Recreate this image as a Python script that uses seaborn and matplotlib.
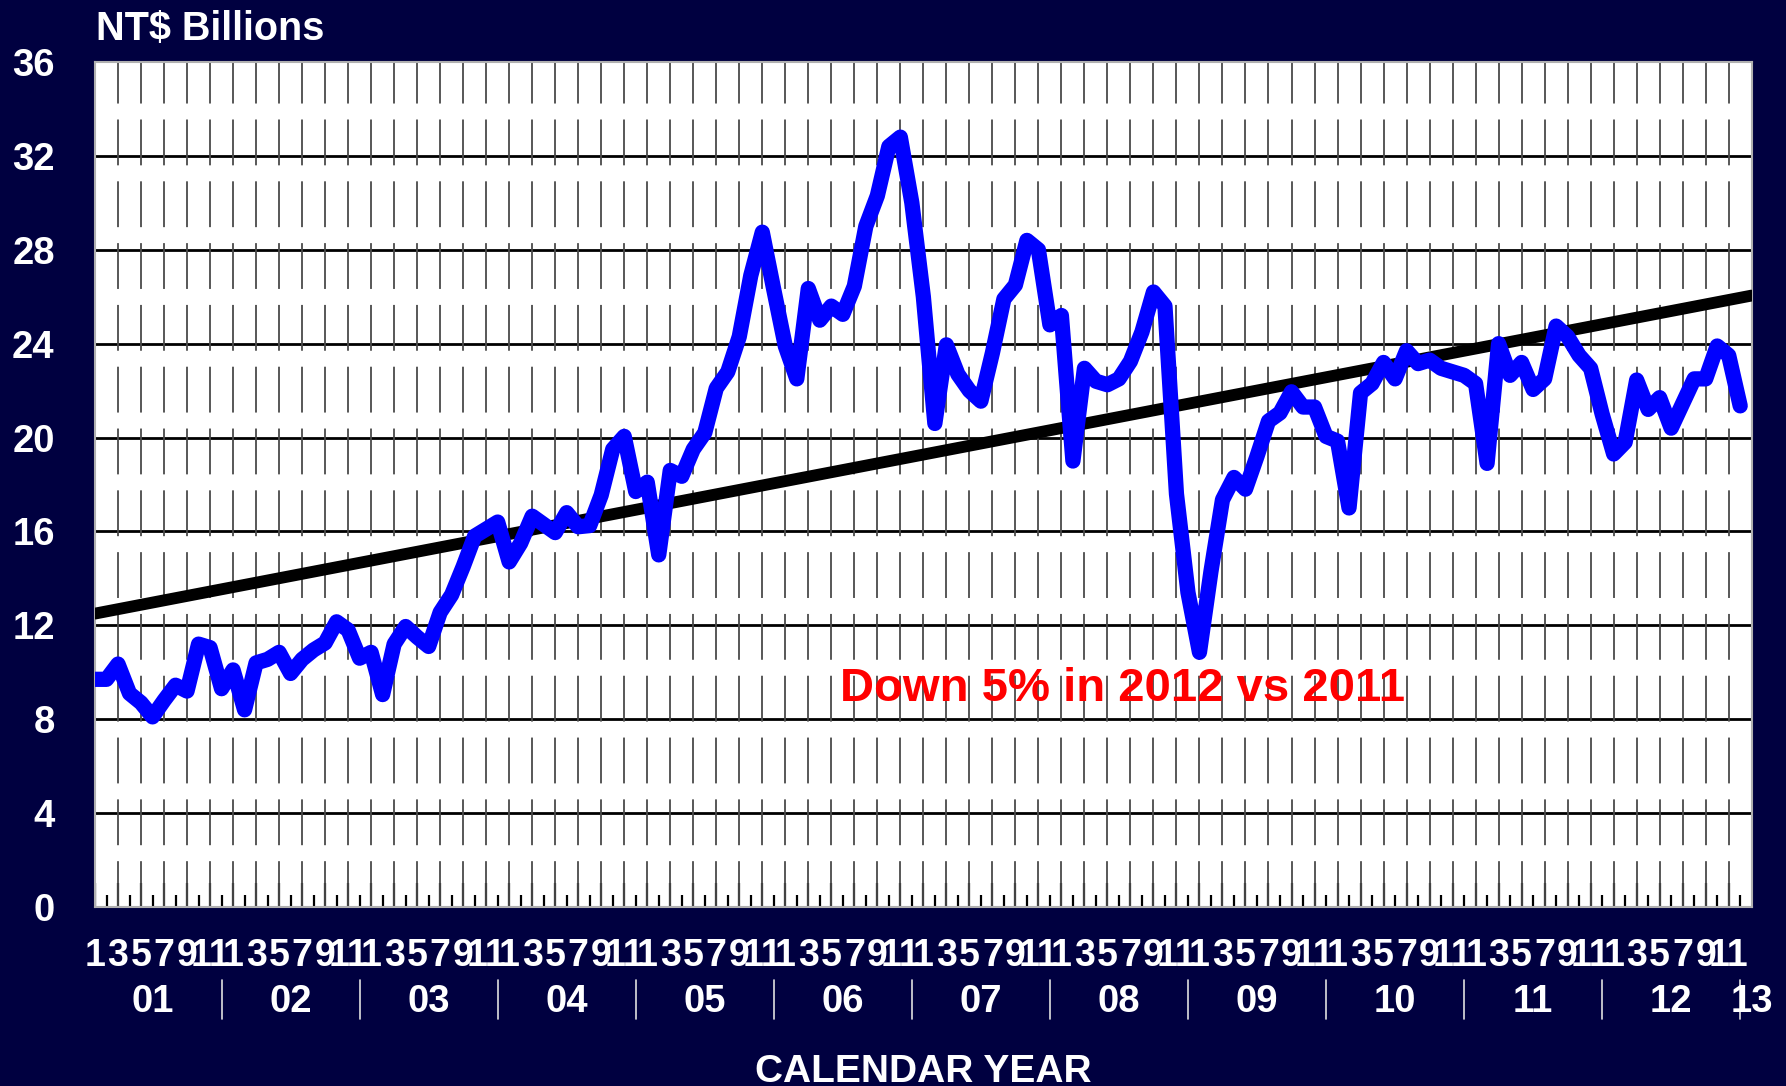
import numpy as np
import pandas as pd
import matplotlib
matplotlib.use("Agg")
import matplotlib.pyplot as plt
import seaborn as sns

# ---------------- data ----------------
year_labels = ["01", "02", "03", "04", "05", "06", "07", "08", "09", "10", "11", "12", "13"]
month_labels = ["1", "3", "5", "7", "9", "11"]
y_ticks = [0, 4, 8, 12, 16, 20, 24, 28, 32, 36]

# monthly values, Jan 2001 .. Dec 2012 (NT$ billions)
sales_2001 = [9.7, 9.7, 10.35, 9.1, 8.7, 8.1, 8.8, 9.45, 9.2, 11.2, 11.05, 9.3]
sales_2002 = [10.1, 8.4, 10.4, 10.55, 10.85, 9.95, 10.55, 10.95, 11.25, 12.15, 11.8, 10.6]
sales_2003 = [10.85, 9.05, 11.2, 11.95, 11.5, 11.1, 12.55, 13.3, 14.5, 15.8, 16.1, 16.4]
sales_2004 = [14.7, 15.5, 16.65, 16.3, 15.95, 16.8, 16.2, 16.25, 17.55, 19.5, 20.05, 17.7]
sales_2005 = [18.1, 15.0, 18.6, 18.35, 19.5, 20.2, 22.1, 22.8, 24.3, 26.9, 28.75, 26.3]
sales_2006 = [23.9, 22.5, 26.35, 25.0, 25.6, 25.25, 26.45, 29.0, 30.3, 32.4, 32.8, 30.0]
sales_2007 = [26.0, 20.6, 23.95, 22.7, 22.0, 21.55, 23.6, 25.9, 26.5, 28.4, 28.0, 24.8]
sales_2008 = [25.2, 19.0, 22.95, 22.4, 22.25, 22.5, 23.25, 24.5, 26.2, 25.6, 17.6, 13.4]
sales_2009 = [10.85, 14.3, 17.35, 18.3, 17.8, 19.2, 20.7, 21.05, 21.95, 21.3, 21.3, 20.05]
sales_2010 = [19.85, 17.0, 21.9, 22.3, 23.2, 22.5, 23.7, 23.15, 23.3, 22.95, 22.8, 22.65]
sales_2011 = [22.3, 18.9, 24.0, 22.65, 23.2, 22.05, 22.5, 24.75, 24.3, 23.5, 22.95, 21.0]
sales_2012 = [19.3, 19.8, 22.45, 21.2, 21.7, 20.4, 21.45, 22.5, 22.5, 23.9, 23.5, 21.35]

trend_values = [12.5, 26.05]   # trend line at the start and end of the axis

sales = (sales_2001 + sales_2002 + sales_2003 + sales_2004 + sales_2005 + sales_2006 +
         sales_2007 + sales_2008 + sales_2009 + sales_2010 + sales_2011 + sales_2012)

n_months = len(sales)          # 144
axis_len = n_months            # axis spans 0..144

df = pd.DataFrame({"month": np.arange(n_months), "value": sales})
trend_df = pd.DataFrame({"month": [0, axis_len], "value": trend_values})

# ---------------- style ----------------
sns.set_theme(style="white")
plt.rcParams["font.family"] = ["Liberation Sans", "DejaVu Sans"]
plt.rcParams["lines.scale_dashes"] = False

BG = "#000040"
W, H = 1786, 1086
fig = plt.figure(figsize=(W / 100, H / 100), dpi=100, facecolor=BG)
ax_left, ax_right, ax_top, ax_bottom = 95, 1751.7, 62, 907
ax = fig.add_axes([ax_left / W, 1 - ax_bottom / H, (ax_right - ax_left) / W, (ax_bottom - ax_top) / H])
ax.set_facecolor("white")
ax.set_xlim(0, axis_len)
ax.set_ylim(0, 36)

# grid
for y in y_ticks[1:-1]:
    ax.axhline(y, color="black", lw=2.0, zorder=1)
for x in range(2, axis_len, 2):
    ax.axvline(x, color="#4a4a4a", lw=1.3, ls=(0, (33, 11.5)), zorder=1)

# lines
sns.lineplot(data=trend_df, x="month", y="value", ax=ax, color="black", lw=8.5, zorder=3)
sns.lineplot(data=df, x="month", y="value", ax=ax, color="#0000FF", lw=11, zorder=4,
             solid_joinstyle="round", solid_capstyle="round")

ax.set_xlabel("")
ax.set_ylabel("")

narrow = ["Liberation Sans Narrow", "Liberation Sans"]

# x ticks
major = np.arange(0, n_months, 2)
ax.set_xticks(major)
ax.set_xticklabels([month_labels[(m % 12) // 2] for m in major], family=narrow, weight="bold")
ax.set_xticks(np.arange(1, n_months, 2), minor=True)
ax.tick_params(axis="x", which="major", direction="in", length=17, width=1.6, color="black",
               labelcolor="white", labelsize=27, pad=22, bottom=True)
ax.tick_params(axis="x", which="minor", direction="in", length=8.5, width=1.6, color="black",
               bottom=True)

# y ticks
ax.set_yticks(y_ticks)
ax.set_yticklabels([str(v) for v in y_ticks], weight="bold")
ax.tick_params(axis="y", which="both", length=0, labelcolor="white", labelsize=27.5, pad=29)

for s in ax.spines.values():
    s.set_color("#b0b0b0")
    s.set_linewidth(1.5)

# year labels and separators
trans = ax.get_xaxis_transform()
for k, yl in enumerate(year_labels[:-1]):
    ax.text(5 + 12 * k, -0.112, yl, transform=trans, ha="center", va="center", color="white",
            fontsize=27.5, weight="bold", family=narrow, clip_on=False)
ax.text(axis_len, -0.112, year_labels[-1], transform=trans, ha="center", va="center",
        color="white", fontsize=27.5, weight="bold", family=narrow, clip_on=False)
for k in range(12):
    ax.plot([11 + 12 * k] * 2, [-0.0864, -0.1325], transform=trans, color="#e0e0e0",
            lw=1.2, clip_on=False)

# annotation
ax.text(89.3, 9.3, "Down 5% in 2012 vs 2011", color="#FF0000", fontsize=34, weight="bold",
        ha="center", va="center", zorder=5)

# titles
fig.text(96 / W, 1 - 40 / H, "NT$ Billions", color="white", fontsize=28.5, weight="bold",
         ha="left", va="baseline")
fig.text((ax_left + ax_right) / 2 / W, 1 - 1054 / H, "CALENDAR YEAR", color="white",
         fontsize=28, weight="bold", ha="center", va="top")

fig.savefig("out.png", dpi=100, facecolor=BG)
